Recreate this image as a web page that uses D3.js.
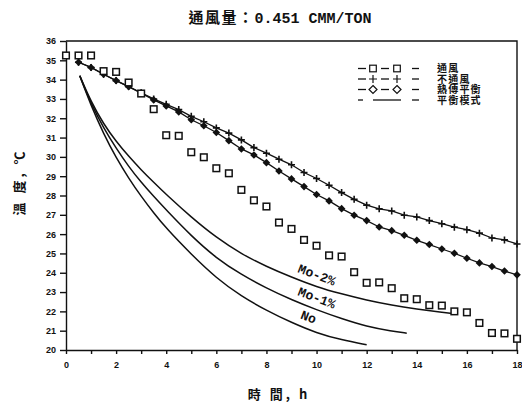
<!DOCTYPE html>
<html>
<head>
<meta charset="utf-8">
<script src="https://cdn.jsdelivr.net/npm/d3@7"></script>
<style>
  html, body { margin: 0; padding: 0; background: #fff; }
  svg { display: block; }
  text { white-space: pre; }
</style>
</head>
<body>
<svg id="chart" width="522" height="405"></svg>
<script>
// Grain-cooling test: temperature vs time at 0.451 CMM/TON airflow
const titleCJK = "通風量：";
const titleLatin = "0.451 CMM/TON";
const xLabel = "時 間, h";
const yLabel = "溫 度, ℃";

const xTicks = d3.range(0, 19, 1);
const xTickLabels = [0, 2, 4, 6, 8, 10, 12, 14, 16, 18];
const yTicks = d3.range(20, 37, 1);

// 通風 (aerated, measured) — every half hour from 0 h
const ventHours = d3.range(0, 18.01, 0.5);
const ventTemp = [35.25, 35.25, 35.25, 34.44, 34.40, 33.85, 33.28, 32.47, 31.12, 31.09,
  30.24, 29.98, 29.41, 29.15, 28.29, 27.75, 27.43, 26.60, 26.27, 25.70,
  25.40, 24.90, 24.84, 24.03, 23.48, 23.50, 23.20, 22.68, 22.63, 22.32,
  22.30, 22.00, 21.95, 21.40, 20.88, 20.86, 20.58];

// 不通風 (non-aerated) — every half hour from 0.5 h
const modelHours = d3.range(0.5, 18.01, 0.5);
const noVentTemp = [34.90, 34.63, 34.28, 33.95, 33.64, 33.32, 33.00, 32.72, 32.45, 32.10,
  31.82, 31.50, 31.23, 30.88, 30.48, 30.19, 29.88, 29.59, 29.19, 28.88,
  28.53, 28.15, 27.80, 27.50, 27.31, 27.20, 26.98, 26.89, 26.70, 26.54,
  26.36, 26.23, 26.05, 25.80, 25.70, 25.49];

// 熱傳平衡 (heat-transfer balance)
const heatTemp = [34.90, 34.63, 34.28, 33.95, 33.64, 33.30, 32.95, 32.64, 32.33, 31.92,
  31.61, 31.26, 30.84, 30.41, 30.10, 29.70, 29.27, 28.86, 28.46, 28.05,
  27.72, 27.32, 26.98, 26.70, 26.37, 26.18, 25.94, 25.68, 25.46, 25.23,
  25.01, 24.75, 24.51, 24.32, 24.09, 23.89];

// 平衡模式 (equilibrium model) curves
const mo2Hours = [0.55, 1, 1.5, 2, 2.5, 3, 3.5, 4, 5, 6, 7, 8, 9, 10, 11, 12, 13, 14, 15, 15.5];
const mo2Temp  = [34.2, 32.85, 31.7, 30.8, 30.03, 29.33, 28.68, 28.05, 26.87, 25.82, 24.97, 24.32, 23.77, 23.27, 22.9, 22.58, 22.32, 22.12, 21.95, 21.88];
const mo1Hours = [0.55, 1, 1.5, 2, 2.5, 3, 3.5, 4, 5, 6, 7, 8, 9, 10, 11, 12, 13, 13.6];
const mo1Temp  = [34.2, 32.75, 31.5, 30.45, 29.5, 28.68, 27.95, 27.25, 25.9, 24.75, 23.9, 23.2, 22.6, 22.08, 21.62, 21.22, 20.98, 20.87];
const noHours  = [0.55, 1, 1.5, 2, 2.5, 3, 3.5, 4, 5, 6, 7, 8, 9, 10, 11, 12];
const noTemp   = [34.2, 32.65, 31.2, 29.95, 28.9, 27.95, 27.1, 26.3, 24.95, 23.72, 22.78, 22.05, 21.42, 20.88, 20.52, 20.27];

const curveLabels = ["Mo-2%", "Mo-1%", "No"];
const legendLabels = ["通風", "不通風", "熱傳平衡", "平衡模式"];

const svg = d3.select("#chart");
const x = d3.scaleLinear().domain([0, 18]).range([66, 517]);
const y = d3.scaleLinear().domain([20, 36]).range([350, 41]);

const ink = "#111";
const tickFont = "'Liberation Sans', Arial, sans-serif";
const monoFont = "'Liberation Mono', 'DejaVu Sans Mono', monospace";
const cjkFont = "'Noto Sans CJK TC', 'Noto Sans CJK SC', sans-serif";

// title
const title = svg.append("text")
  .attr("x", 280).attr("y", 23)
  .attr("text-anchor", "middle")
  .attr("fill", ink)
  .attr("font-weight", "bold");
title.append("tspan").attr("font-family", cjkFont).attr("font-size", 15)
  .attr("letter-spacing", 1.5).text(titleCJK);
title.append("tspan").attr("font-family", monoFont)
  .attr("font-size", 15).text(titleLatin);

// frame (top and right)
svg.append("path")
  .attr("d", `M${x(0)},${y(36)}H${x(18)}V${y(20)}`)
  .attr("fill", "none").attr("stroke", ink).attr("stroke-width", 1.4);

// axes
const yAxis = svg.append("g")
  .attr("transform", `translate(${x(0)},0)`)
  .call(d3.axisLeft(y).tickValues(yTicks).tickSize(6).tickSizeOuter(0).tickPadding(4).tickFormat(d3.format("d")));
const xAxis = svg.append("g")
  .attr("transform", `translate(0,${y(20)})`)
  .call(d3.axisBottom(x).tickValues(xTicks).tickSize(4).tickSizeOuter(0).tickPadding(8)
    .tickFormat(d => xTickLabels.includes(d) ? d : ""));
[yAxis, xAxis].forEach(g => {
  g.selectAll("path, line").attr("stroke", ink).attr("stroke-width", 1.4);
  g.selectAll("text").attr("fill", ink).attr("font-family", tickFont)
    .attr("font-weight", "bold").attr("font-size", 9);
});

// axis titles
svg.append("text")
  .attr("x", 279).attr("y", 399)
  .attr("text-anchor", "middle")
  .attr("font-family", cjkFont).attr("font-weight", "bold").attr("font-size", 13)
  .attr("letter-spacing", 3)
  .attr("fill", ink).text(xLabel);
svg.append("text")
  .attr("transform", "translate(24,182) rotate(-90)")
  .attr("text-anchor", "middle")
  .attr("font-family", cjkFont).attr("font-weight", "bold").attr("font-size", 13)
  .attr("letter-spacing", 3)
  .attr("fill", ink).text(yLabel);

const line = d3.line().x(d => x(d[0])).y(d => y(d[1]));
const smooth = d3.line().x(d => x(d[0])).y(d => y(d[1])).curve(d3.curveBasis);

// model curves
[[mo2Hours, mo2Temp], [mo1Hours, mo1Temp], [noHours, noTemp]].forEach(([hs, ts]) => {
  svg.append("path")
    .datum(d3.zip(hs, ts))
    .attr("d", smooth)
    .attr("fill", "none").attr("stroke", ink).attr("stroke-width", 1.5);
});

// curve labels
const labelPos = [[9.95, 23.68], [9.95, 22.49], [9.62, 21.5]];
curveLabels.forEach((t, i) => {
  svg.append("text")
    .attr("transform", `translate(${x(labelPos[i][0])},${y(labelPos[i][1])}) rotate(21)`)
    .attr("text-anchor", "middle")
    .attr("font-family", monoFont)
    .attr("font-weight", "bold").attr("font-size", 13)
    .attr("fill", ink).text(t);
});

// 不通風 line with crosses
const noVent = d3.zip(modelHours, noVentTemp);
svg.append("path").datum(noVent).attr("d", line)
  .attr("fill", "none").attr("stroke", ink).attr("stroke-width", 1.3);
svg.append("g").selectAll("path").data(noVent).join("path")
  .attr("d", d => `M${x(d[0]) - 3.5},${y(d[1])}h7M${x(d[0])},${y(d[1]) - 3.5}v7`)
  .attr("stroke", ink).attr("stroke-width", 1.6);

// 熱傳平衡 line with diamonds
const heat = d3.zip(modelHours, heatTemp);
svg.append("path").datum(heat).attr("d", line)
  .attr("fill", "none").attr("stroke", ink).attr("stroke-width", 1.3);
svg.append("g").selectAll("path").data(heat).join("path")
  .attr("d", d => `M${x(d[0])},${y(d[1]) - 3.8}l3.8,3.8l-3.8,3.8l-3.8,-3.8z`)
  .attr("fill", ink);

// 通風 squares
svg.append("g").selectAll("rect").data(d3.zip(ventHours, ventTemp)).join("rect")
  .attr("x", d => x(d[0]) - 3.3).attr("y", d => y(d[1]) - 3.3)
  .attr("width", 6.6).attr("height", 6.6)
  .attr("fill", "#fff").attr("stroke", ink).attr("stroke-width", 1.5);

// legend
const lg = svg.append("g");
const rowStep = 10.5;
const rows = legendLabels.map((_, i) => 68.5 + i * rowStep);
const dashes = (yy, segs) => segs.forEach(([a, b]) =>
  lg.append("line").attr("x1", a).attr("x2", b).attr("y1", yy).attr("y2", yy)
    .attr("stroke", ink).attr("stroke-width", 1.3));
// row 1: squares
dashes(rows[0], [[358, 366], [381, 389], [412, 419]]);
[373, 397].forEach(cx => lg.append("rect").attr("x", cx - 3.3).attr("y", rows[0] - 3.3)
  .attr("width", 6.6).attr("height", 6.6).attr("fill", "#fff").attr("stroke", ink).attr("stroke-width", 1.2));
// row 2: crosses
dashes(rows[1], [[358, 366], [381, 389], [412, 419]]);
[373, 397].forEach(cx => lg.append("path")
  .attr("d", `M${cx - 4},${rows[1]}h8M${cx},${rows[1] - 4}v8`).attr("stroke", ink).attr("stroke-width", 1.2));
// row 3: diamonds
dashes(rows[2], [[358, 366], [381, 389], [412, 419]]);
[373, 397].forEach(cx => lg.append("path")
  .attr("d", `M${cx},${rows[2] - 4}l4,4l-4,4l-4,-4z`).attr("fill", "#fff").attr("stroke", ink).attr("stroke-width", 1.2));
// row 4: solid line
dashes(rows[3], [[358, 363], [373, 401], [412, 419]]);

// legend labels as one multi-line text block
const legendText = lg.append("text")
  .attr("y", rows[0] + 3.6)
  .attr("font-family", cjkFont).attr("font-size", 10).attr("font-weight", "bold")
  .attr("letter-spacing", 1.2)
  .attr("fill", ink);
legendLabels.forEach((t, i) => {
  legendText.append("tspan").attr("x", 437).attr("dy", i === 0 ? 0 : rowStep).text(t);
});
</script>
</body>
</html>
